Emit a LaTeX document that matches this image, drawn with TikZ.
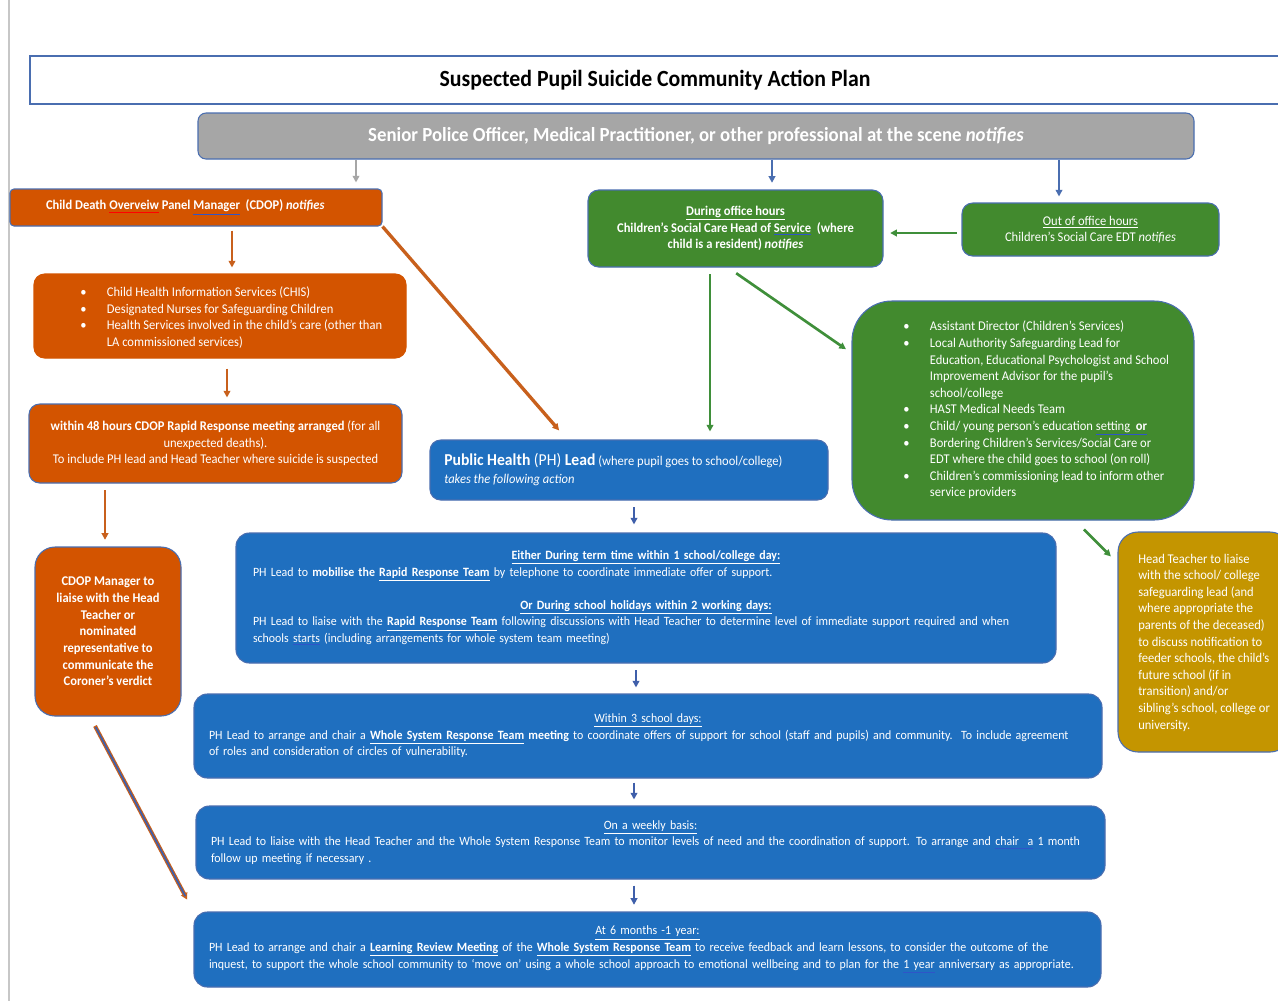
\documentclass[tikz,border=0pt]{standalone}
\usepackage{fontspec}
\setmainfont{Carlito}[FakeStretch=0.94]
\usetikzlibrary{arrows.meta,calc}
\definecolor{cOr}{HTML}{D35400}
\definecolor{cGr}{HTML}{428A2E}
\definecolor{cGa}{HTML}{3F8F3A}
\definecolor{cBl}{HTML}{1F6FBF}
\definecolor{cGo}{HTML}{C49500}
\definecolor{cGy}{HTML}{A6A6A6}
\definecolor{cBd}{HTML}{4A6EB0}
\definecolor{cAr}{HTML}{3F5FAA}
\definecolor{cOa}{HTML}{C8601C}
\definecolor{cUl}{HTML}{2F55C8}
\newcommand\bu[1]{{\color{cUl}\underline{\color{white}#1}}}
\newcommand\ru[1]{{\color{red}\underline{\color{white}#1}}}
\newcommand\bl[1]{\makebox[20pt][l]{\textbullet}#1}
\newcommand\bc[1]{\hspace*{20pt}#1}
\newcommand\ctr[1]{\makebox[\linewidth][c]{#1}}
\tikzset{
  box/.style={draw=cBd, line width=0.8pt, rounded corners=8pt, inner sep=0pt, text=white, align=center},
  bodyfont/.style={font=\fontsize{10}{12.45}\selectfont},
  bluefont/.style={font=\fontsize{9.5}{12.45}\selectfont},
  txt/.style={text=white, inner sep=0pt, align=left, font=\fontsize{10}{12.45}\selectfont},
  arr/.style={line width=1.5pt, -{Triangle[length=5pt,width=5pt]}},
}
\begin{document}
\begin{tikzpicture}[x=0.75pt,y=-0.75pt]
\useasboundingbox (0,0) rectangle (1278,1001);
\fill[white] (0,0) rectangle (1278,1001);
\draw[color=black!22, line width=1pt] (9,0) -- (9,1001);

% helper coordinates
\foreach \v in {90,105,227,232,356,567,634,636,710,728,772,1059,1075}{\coordinate (x\v) at (\v,0);}
\coordinate (y353) at (0,353);
\coordinate (y563) at (0,563);
\coordinate (y233) at (0,233);

% title
\node[box, fill=white, text=black, rounded corners=0pt, minimum width=945pt, minimum height=36pt,
  font=\fontsize{17.4}{20}\selectfont\bfseries] (title) at (660,80) {\hspace*{-7.5pt}Suspected Pupil Suicide Community Action Plan};

\node[box, fill=cGy, minimum width=747pt, minimum height=34.5pt, rounded corners=6pt,
  font=\fontsize{15}{17}\selectfont\bfseries] (scene) at (696,136)
  {\raisebox{2.5pt}{Senior Police Officer, Medical Practitioner, or other professional at the scene \textit{notifies}}};

% orange column
\node[box, fill=cOr, minimum width=279pt, minimum height=27.75pt, rounded corners=3pt,
  font=\fontsize{10}{12.45}\selectfont\bfseries] (cdop) at (196,207.5)
  {\hspace*{-16pt}Child Death \ru{Overveiw} Panel \bu{Manager}\ \ (CDOP) \textit{notifies}};

\node[box, draw=cOr, fill=cOr, minimum width=279pt, minimum height=63pt] (chis) at (220,316) {};
\node[txt, anchor=west] (chisT) at (80,317.5)
  {\bl{Child Health Information Services (CHIS)}\\
   \bl{Designated Nurses for Safeguarding Children}\\
   \bl{Health Services involved in the child’s care (other than}\\
   \bc{LA commissioned services)}};

\node[box, fill=cOr, minimum width=279.75pt, minimum height=59.25pt, bodyfont] (rr48) at (215.5,443.5)
  {\textbf{within 48 hours CDOP Rapid Response meeting arranged} (for all\\
   unexpected deaths).\\
   To include PH lead and Head Teacher where suicide is suspected};

\node[box, fill=cOr, minimum width=109.5pt, minimum height=126.75pt, rounded corners=15pt,
  font=\fontsize{10}{12.5}\selectfont\bfseries] (coroner) at (108,631.5)
  {CDOP Manager to\\ liaise with the Head\\ Teacher or\\ nominated\\ representative to\\ communicate the\\ Coroner’s verdict};

% green
\node[box, fill=cGr, minimum width=221.25pt, minimum height=57.75pt,
  font=\fontsize{10}{12.45}\selectfont\bfseries] (during) at (735.5,228.5)
  {\underline{During office hours}\\
   Children’s Social Care Head of \bu{Service}\ \ (where\\
   child is a resident) \textit{notifies}};

\node[box, fill=cGr, minimum width=192.75pt, minimum height=39.75pt, bodyfont] (out) at (1090.5,229.5)
  {\underline{Out of office hours}\\ Children’s Social Care EDT \textit{notifies}};

\node[box, fill=cGr, minimum width=256.5pt, minimum height=164.25pt, rounded corners=30pt] (agencies) at (1023,410.5) {};
\node[txt, anchor=west] (agenciesT) at (903,410)
  {\bl{Assistant Director (Children’s Services)}\\
   \bl{Local Authority Safeguarding Lead for}\\
   \bc{Education, Educational Psychologist and School}\\
   \bc{Improvement Advisor for the pupil’s}\\
   \bc{school/college}\\
   \bl{HAST Medical Needs Team}\\
   \bl{Child/ young person’s education \bu{setting\ \ \textbf{or}}}\\
   \bl{Bordering Children’s Services/Social Care or}\\
   \bc{EDT where the child goes to school (on roll)}\\
   \bl{Children’s commissioning lead to inform other}\\
   \bc{service providers}};

% gold
\node[box, fill=cGo, minimum width=129pt, minimum height=165pt, rounded corners=15pt] (gold) at (1204,642) {};
\node[txt, anchor=west] (goldT) at (1138,642.5)
  {Head Teacher to liaise\\ with the school/ college\\ safeguarding lead (and\\ where appropriate the\\
   parents of the deceased)\\ to discuss notification to\\ feeder schools, the child’s\\ future school (if in\\
   transition) and/or\\ sibling’s school, college or\\ university.};

% blue
\node[box, fill=cBl, minimum width=298.5pt, minimum height=45pt] (phlead) at (629,470) {};
\node[txt, anchor=west, font=\fontsize{10}{13.5}\selectfont] (phleadT) at (444,470)
  {{\fontsize{12.5}{13.5}\selectfont\textbf{Public Health} (PH) \textbf{Lead}} (where pupil goes to school/college)\\
   \textit{takes the following action}};

\node[box, fill=cBl, minimum width=615pt, minimum height=97.5pt, rounded corners=10pt, text width=589.5pt, align=left, bluefont] (b1) at (646,598)
  {\ctr{\textbf{\underline{Either During term time within 1 school/college day:}}}\\
   PH Lead to \textbf{mobilise the \underline{Rapid Response Team}} by telephone to coordinate immediate offer of support.\\[12.45pt]
   \ctr{\textbf{\underline{Or During school holidays within 2 working days:}}}\\
   \mbox{PH Lead to liaise with the \textbf{\underline{Rapid Response Team}} following discussions with Head Teacher to determine level of immediate support required and when}\\
   schools \bu{starts} (including arrangements for whole system team meeting)};

\node[box, fill=cBl, minimum width=681pt, minimum height=63pt, rounded corners=10pt, text width=658.5pt, align=left, bluefont] (b2) at (648,736)
  {\ctr{\underline{Within 3 school days:}}\\
   \mbox{PH Lead to arrange and chair a \textbf{\underline{Whole System Response Team} meeting} to coordinate offers of support for school (staff and pupils) and community.\ \ To include agreement}\\
   of roles and consideration of circles of vulnerability.};

\node[box, fill=cBl, minimum width=681.75pt, minimum height=54.75pt, rounded corners=10pt, text width=659.25pt, align=left, bluefont] (b3) at (650.5,842.5)
  {\ctr{\underline{On a weekly basis:}}\\
   \mbox{PH Lead to liaise with the Head Teacher and the Whole System Response Team to monitor levels of need and the coordination of support. To arrange and \bu{chair\ \ a} 1 month}\\
   follow up meeting if necessary .};

\node[box, fill=cBl, minimum width=680.25pt, minimum height=56.25pt, rounded corners=10pt, text width=657.75pt, align=left, bluefont] (b4) at (647.5,949.5)
  {\ctr{\underline{At 6 months -1 year:}}\\
   \mbox{PH Lead to arrange and chair a \textbf{\underline{Learning Review Meeting}} of the \textbf{\underline{Whole System Response Team}} to receive feedback and learn lessons, to consider the outcome of the}\\
   \mbox{inquest, to support the whole school community to ‘move on’ using a whole school approach to emotional wellbeing and to plan for the \bu{1 year} anniversary as appropriate.}};

% connectors
\draw[arr, color=cGy, shorten >=4.5pt] (scene.south -| x356) -- (cdop.north -| x356);
\draw[arr, color=cBd, shorten >=5pt] (scene.south -| x772) -- (during.north -| x772);
\draw[arr, color=cBd, shorten >=4.5pt] (scene.south -| x1059) -- (out.north -| x1059);
\draw[arr, color=cGa, line width=2pt, shorten <=3.5pt, shorten >=5pt] (out.west |- y233) -- (during.east |- y233);

\draw[arr, color=cOa, line width=2pt, shorten <=3pt, shorten >=4.5pt] (cdop.south -| x232) -- (chis.north -| x232);
\draw[arr, color=cOa, line width=2pt, shorten <=7.5pt, shorten >=4.5pt] (chis.south -| x227) -- (rr48.north -| x227);
\draw[arr, color=cOa, line width=2pt, shorten <=5pt, shorten >=5pt] (rr48.south -| x105) -- (coroner.north -| x105);
\draw[arr, color=cOa, line width=2.5pt, shorten >=9pt] (cdop.south east) -- (phlead.north -| x567);
\draw[arr, color=cOa, line width=3pt, shorten <=8pt, shorten >=10pt] (coroner.south -| x90) -- (b4.west |- b4.north);
\draw[color=cAr, line width=1.3pt, shorten <=9pt, shorten >=13pt] (coroner.south -| x90) -- (b4.west |- b4.north);

\draw[arr, color=cGa, line width=2pt, shorten <=5pt, shorten >=6pt] (during.south -| x710) -- (phlead.north -| x710);
\draw[arr, color=cGa, line width=2pt, shorten <=7.5pt, shorten >=5pt] (during.south -| x728) -- (agencies.west |- y353);
\draw[arr, color=cGa, line width=2pt, shorten <=9.5pt, shorten >=7pt] (agencies.south -| x1075) -- (gold.west |- y563);

\draw[arr, color=cAr, shorten <=5pt, shorten >=6pt] (phlead.south -| x634) -- (b1.north -| x634);
\draw[arr, color=cAr, shorten <=5pt, shorten >=4.5pt] (b1.south -| x636) -- (b2.north -| x636);
\draw[arr, color=cAr, shorten <=3pt, shorten >=4.5pt] (b2.south -| x634) -- (b3.north -| x634);
\draw[arr, color=cAr, shorten <=4.5pt, shorten >=5pt] (b3.south -| x634) -- (b4.north -| x634);
\end{tikzpicture}
\end{document}
